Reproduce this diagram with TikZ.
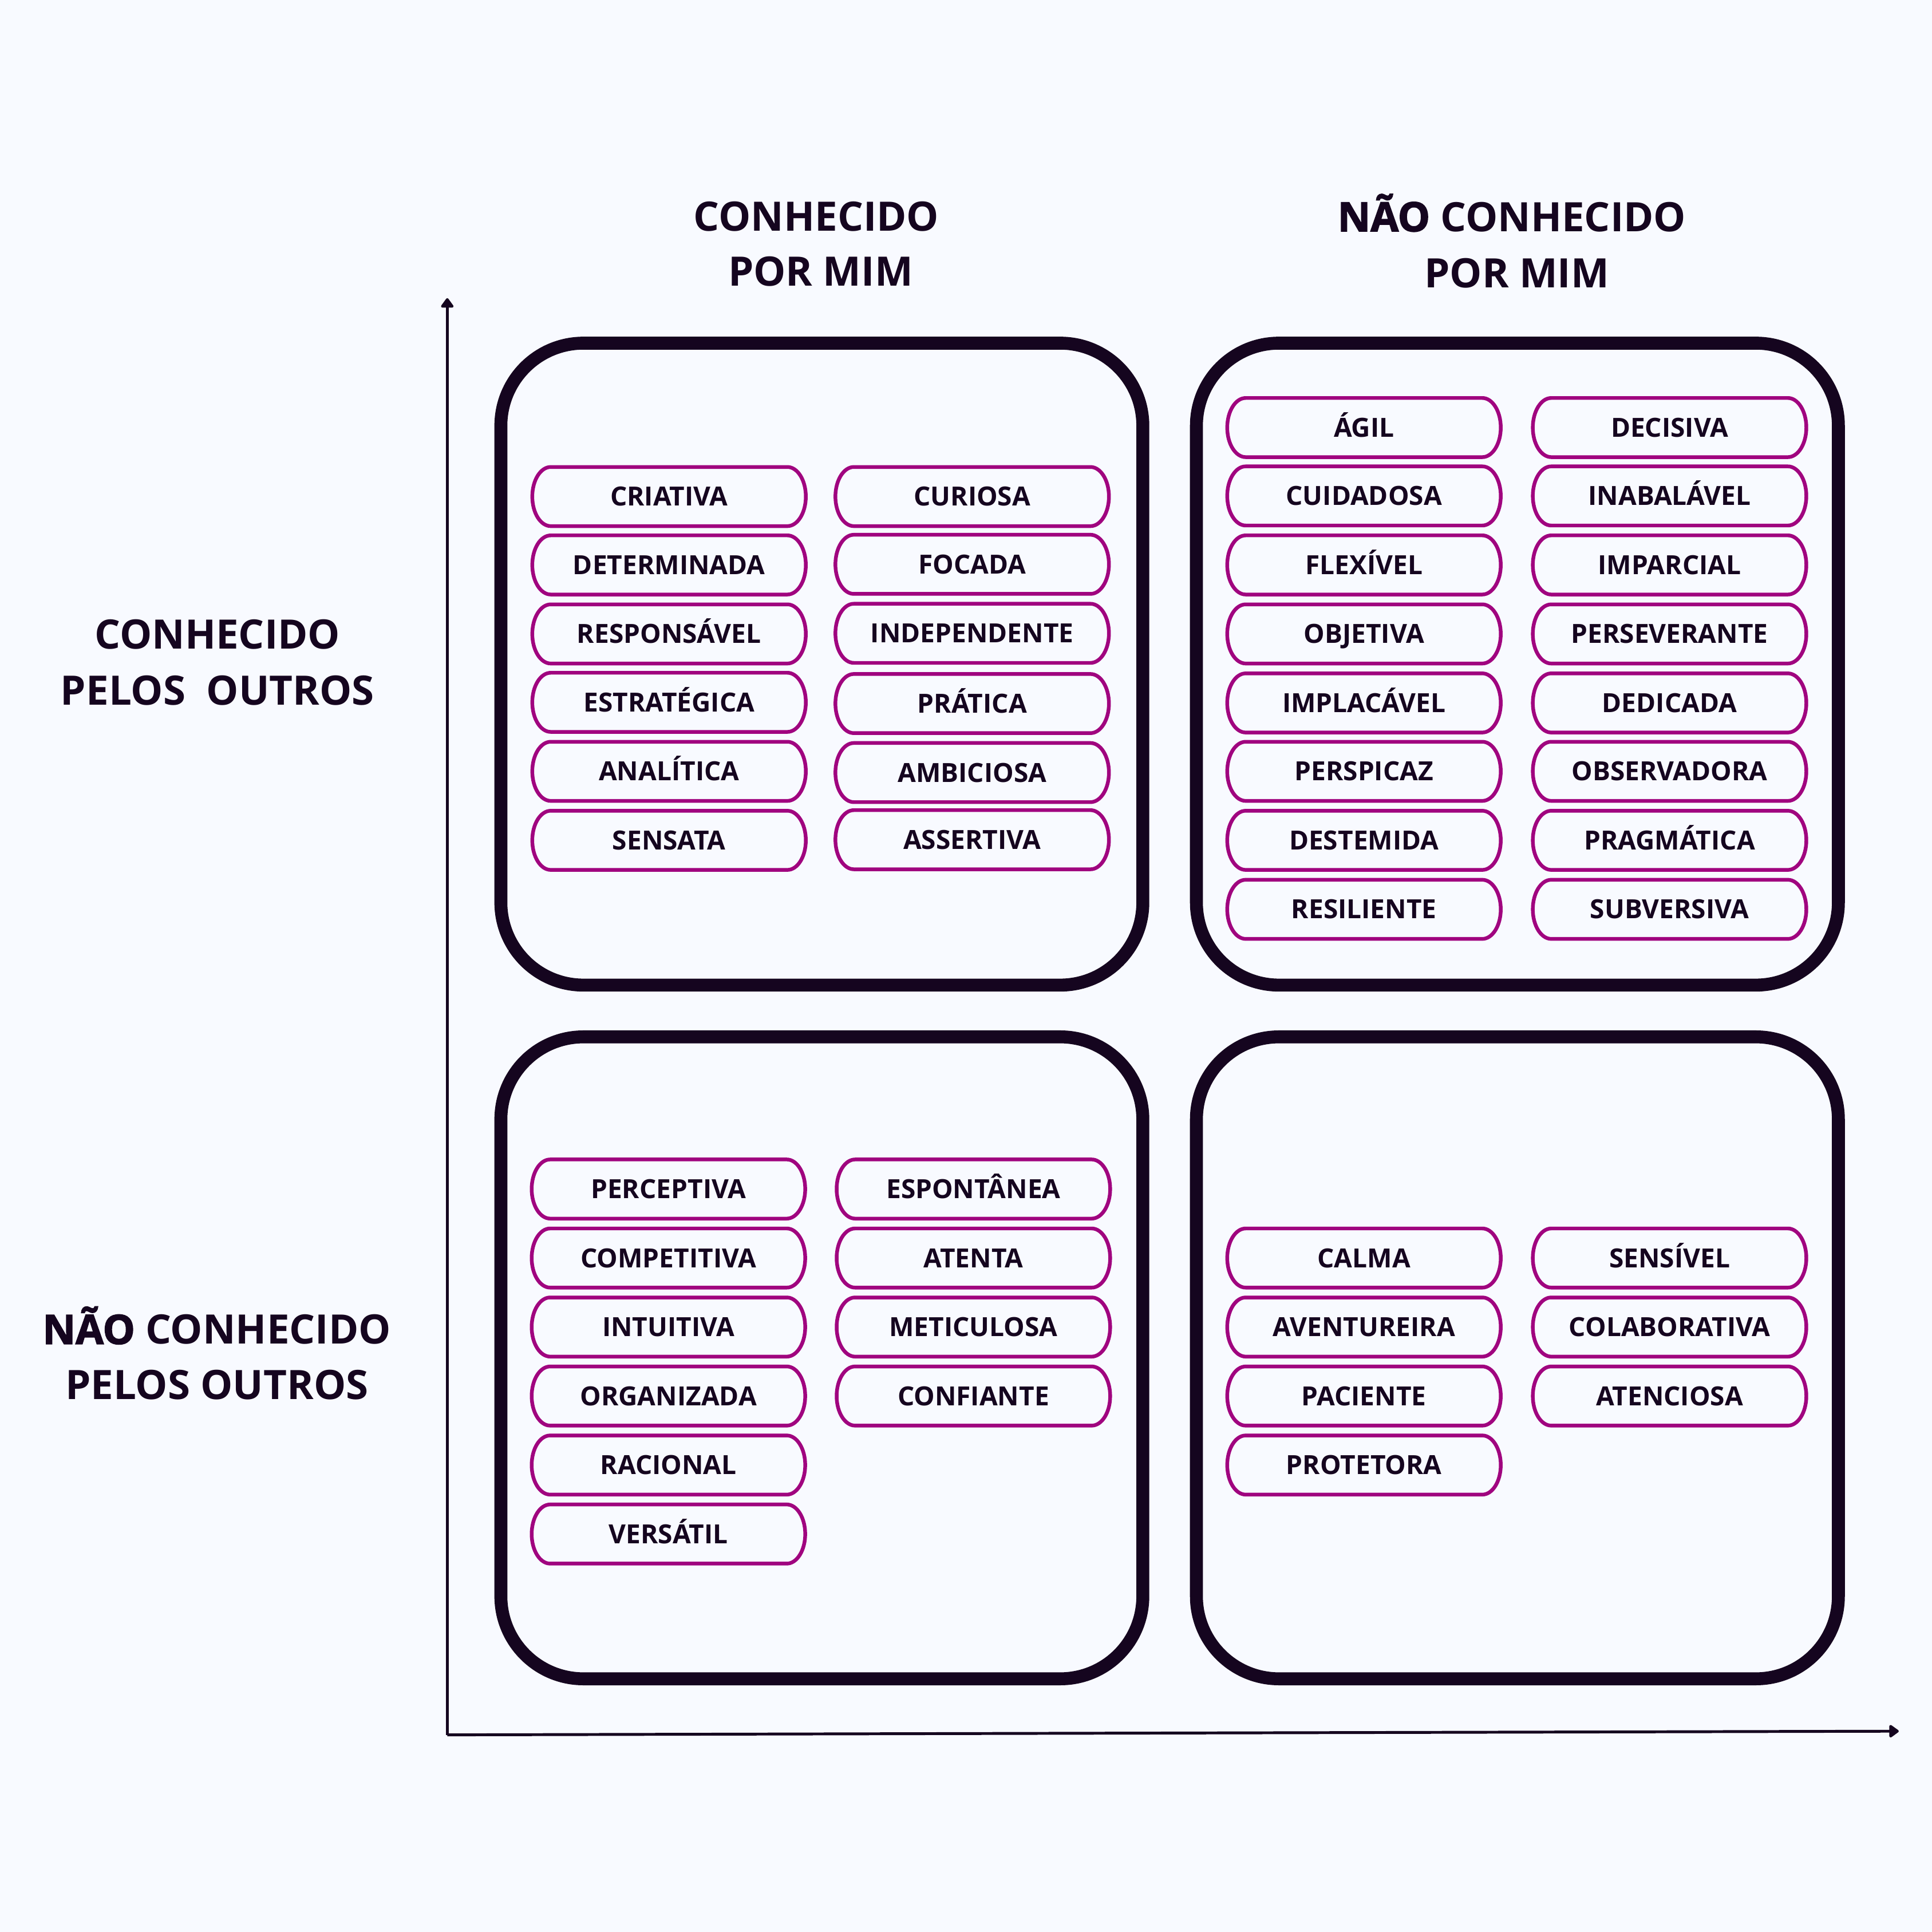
\documentclass[tikz,border=0pt]{standalone}
\usepackage{fontspec}
\setmainfont{Open Sans}
\newfontface\xbold{Open Sans}[UprightFont={* Bold},FakeBold=2.2]
\usetikzlibrary{arrows.meta}
\definecolor{bg}{HTML}{F8FAFF}
\definecolor{ink}{HTML}{15051F}
\definecolor{mag}{HTML}{A0047F}
\newcommand\pill[4]{%
  \node[pilltext] (#1) at (#2,#3) {#4};
  \draw[pillline] ([xshift=15pt]#1.north west) -- ([xshift=-15pt]#1.north east)
    arc[start angle=90, end angle=-90, x radius=15pt, y radius=24pt]
    -- ([xshift=15pt]#1.south west)
    arc[start angle=-90, end angle=-270, x radius=15pt, y radius=24pt] -- cycle;}
\begin{document}
\begin{tikzpicture}[x=1pt, y=-1pt,
  pilltext/.style={minimum width=222pt, minimum height=48pt, inner sep=0pt, outer sep=0pt,
    text height=15.3pt, text depth=0pt, font=\bfseries\fontsize{21.4}{25}\selectfont, text=ink},
  pillline/.style={draw=mag, line width=3pt},
  quad/.style={draw=ink, line width=10.5pt, rounded corners=67pt, minimum width=521pt,
    minimum height=521pt, inner sep=0pt, outer sep=0pt},
  head/.style={inner sep=0pt, text height=23.5pt, text depth=0pt, text=ink,
    font=\bfseries\fontsize{32.9}{39}\selectfont},
  axis/.style={draw=ink, line width=2.3pt, -{Triangle[length=8.5pt, width=11.6pt, round]}}]
\fill[bg] (0,0) rectangle (1568,1568);
\useasboundingbox (0,0) rectangle (1568,1568);

% headings
\node[head] (hTL1) at (662.5,175.5) {CONHECIDO};
\node[head] (hTL2) at (666,220.5) {POR MIM};
\node[head] (hTR1) at (1227,176) {{\xbold NÃO} CONHECIDO};
\node[head] (hTR2) at (1231,221.5) {POR MIM};
\node[head] (hL1) at (176.5,515) {CONHECIDO};
\node[head] (hL2) at (176.5,560.5) {PELOS\ \ OUTROS};
\node[head] (hB1) at (176,1079) {{\xbold NÃO} CONHECIDO};
\node[head] (hB2) at (176,1124) {PELOS OUTROS};

% axes
\coordinate (O) at (363,1408);
\coordinate (ytip) at (363,242);
\coordinate (xtip) at (1541,1405);
\draw[axis] (O) -- (ytip);
\draw[axis] (O) -- (xtip);

% quadrants
\node[quad] (qTL) at (667,539) {};
\node[quad] (qTR) at (1231.5,539) {};
\node[quad] (qBL) at (667,1102) {};
\node[quad] (qBR) at (1231.5,1102) {};

% top-left
\pill{a1}{543}{403}{CRIATIVA}
\pill{a2}{543}{458.5}{DETERMINADA}
\pill{a3}{543}{514.5}{RESPONSÁVEL}
\pill{a4}{543}{570}{ESTRATÉGICA}
\pill{a5}{543}{626}{ANALÍTICA}
\pill{a6}{543}{682}{SENSATA}
\pill{b1}{789}{403}{CURIOSA}
\pill{b2}{789}{458}{FOCADA}
\pill{b3}{789}{514}{INDEPENDENTE}
\pill{b4}{789}{571}{PRÁTICA}
\pill{b5}{789}{627}{AMBICIOSA}
\pill{b6}{789}{681.5}{ASSERTIVA}

% top-right
\pill{c1}{1107}{347}{ÁGIL}
\pill{c2}{1107}{402.5}{CUIDADOSA}
\pill{c3}{1107}{458.5}{FLEXÍVEL}
\pill{c4}{1107}{514.5}{OBJETIVA}
\pill{c5}{1107}{570.5}{IMPLACÁVEL}
\pill{c6}{1107}{626}{PERSPICAZ}
\pill{c7}{1107}{682}{DESTEMIDA}
\pill{c8}{1107}{738}{RESILIENTE}
\pill{d1}{1355}{347}{DECISIVA}
\pill{d2}{1355}{402.5}{INABALÁVEL}
\pill{d3}{1355}{458.5}{IMPARCIAL}
\pill{d4}{1355}{514.5}{PERSEVERANTE}
\pill{d5}{1355}{570.5}{DEDICADA}
\pill{d6}{1355}{626}{OBSERVADORA}
\pill{d7}{1355}{682}{PRAGMÁTICA}
\pill{d8}{1355}{738}{SUBVERSIVA}

% bottom-left
\pill{e1}{542.5}{965}{PERCEPTIVA}
\pill{e2}{542.5}{1021}{COMPETITIVA}
\pill{e3}{542.5}{1077}{INTUITIVA}
\pill{e4}{542.5}{1133}{ORGANIZADA}
\pill{e5}{542.5}{1189}{RACIONAL}
\pill{e6}{542.5}{1245}{VERSÁTIL}
\pill{f1}{790}{965}{ESPONTÂNEA}
\pill{f2}{790}{1021}{ATENTA}
\pill{f3}{790}{1077}{METICULOSA}
\pill{f4}{790}{1133}{CONFIANTE}

% bottom-right
\pill{g1}{1107}{1021}{CALMA}
\pill{g2}{1107}{1077}{AVENTUREIRA}
\pill{g3}{1107}{1133}{PACIENTE}
\pill{g4}{1107}{1189}{PROTETORA}
\pill{h1}{1355}{1021}{SENSÍVEL}
\pill{h2}{1355}{1077}{COLABORATIVA}
\pill{h3}{1355}{1133}{ATENCIOSA}
\end{tikzpicture}
\end{document}
